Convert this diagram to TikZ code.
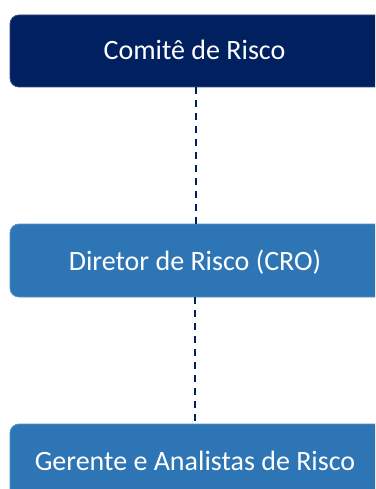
\documentclass[tikz,border=0pt]{standalone}
\usepackage{fontspec}
\setmainfont{Carlito}
\definecolor{navy}{HTML}{002060}
\definecolor{midblue}{HTML}{2E75B6}
\begin{document}
\begin{tikzpicture}[x=1pt,y=-1pt,
  box/.style={rounded corners=9pt, draw=#1!80!white, line width=0.8pt, fill=#1},
  lbl/.style={text=white, font=\fontsize{28}{30}\selectfont, inner sep=0pt},
  link/.style={draw=navy, dash pattern=on 7pt off 6pt, line width=1.4pt}]
\useasboundingbox (0,0) rectangle (375,489);
\clip (0,0) rectangle (375,489);
\path[box=navy] (10,15) rectangle (395,87);
\path[box=midblue] (10,224) rectangle (395,297);
\path[box=midblue] (10,424) rectangle (395,520);
\node[lbl] (c) at (194.5,50) {Comitê de Risco};
\node[lbl] (d) at (195,262) {Diretor de Risco (CRO)};
\node[lbl] (g) at (195,461) {Gerente e Analistas de Risco};
\coordinate (a1) at (196,87);
\coordinate (a2) at (196,224);
\coordinate (b1) at (195,297);
\coordinate (b2) at (195,424);
\draw[link] (a1) -- (a2);
\draw[link] (b1) -- (b2);
\end{tikzpicture}
\end{document}
